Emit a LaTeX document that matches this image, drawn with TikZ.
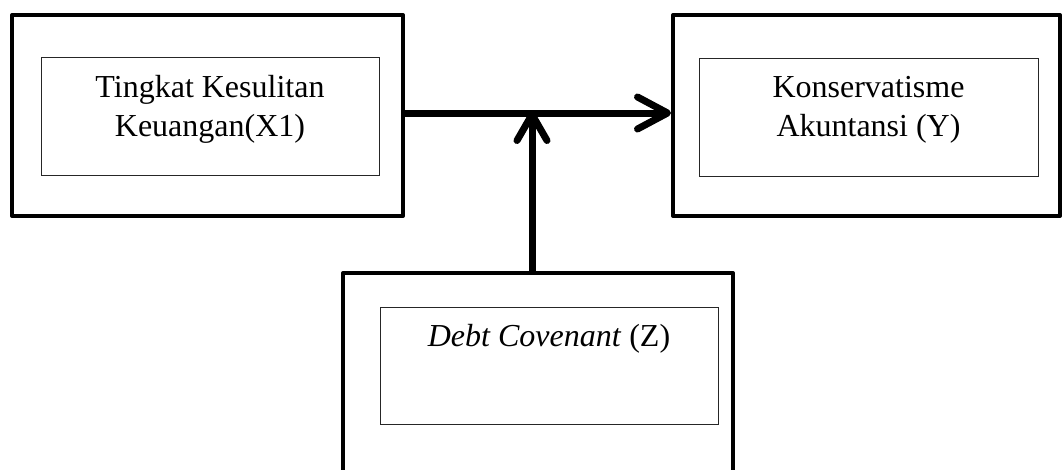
\documentclass[tikz,border=0pt]{standalone}
\usepackage{fontspec}
\setmainfont{Liberation Serif}
\usetikzlibrary{arrows.meta}
\begin{document}
\begin{tikzpicture}[x=1pt,y=-1pt,
  outerbox/.style={draw=black, line width=4pt, line join=round, minimum width=#1, inner sep=0pt},
  innerbox/.style={draw=black!85, line width=0.9pt, inner sep=0pt},
  lbl/.style={font=\fontsize{32}{39}\selectfont, inner sep=0pt, align=center, anchor=base},
  conn/.style={line width=7pt}
]
\useasboundingbox (0,0) rectangle (1062,469);
\clip (0,0) rectangle (1062,469);
% outer boxes
\node[outerbox=391pt, minimum height=201pt] (xout) at (207.5,115.5) {};
\node[outerbox=387pt, minimum height=201pt] (yout) at (866.5,115.5) {};
\node[outerbox=390pt, minimum height=240pt] (zout) at (538,393) {};
% inner boxes
\node[innerbox, minimum width=338pt, minimum height=118pt] (xin) at (210,116.7) {};
\node[innerbox, minimum width=339pt, minimum height=118pt] (yin) at (868.5,117) {};
\node[innerbox, minimum width=338pt, minimum height=117pt] (zin) at (549,365.5) {};
% texts (base = baseline of last line)
\node[lbl] (xtext) at ([yshift=-79pt]xin.north) {Tingkat Kesulitan\\Keuangan(X1)};
\node[lbl] (ytext) at ([yshift=-79pt]yin.north) {Konservatisme\\Akuntansi (Y)};
\node[lbl] (ztext) at ([yshift=-40pt]zin.north) {\textit{Debt Covenant} (Z)};
% connectors
\coordinate (j) at (532,113);
\draw[conn, -{Straight Barb[length=30pt, width=32pt, round]}] (xout.east |- j) -- (yout.west |- j);
\draw[conn, -{Straight Barb[length=26pt, width=30pt, round]}] (zout.north -| j) -- ([yshift=2pt]j);
\end{tikzpicture}
\end{document}
